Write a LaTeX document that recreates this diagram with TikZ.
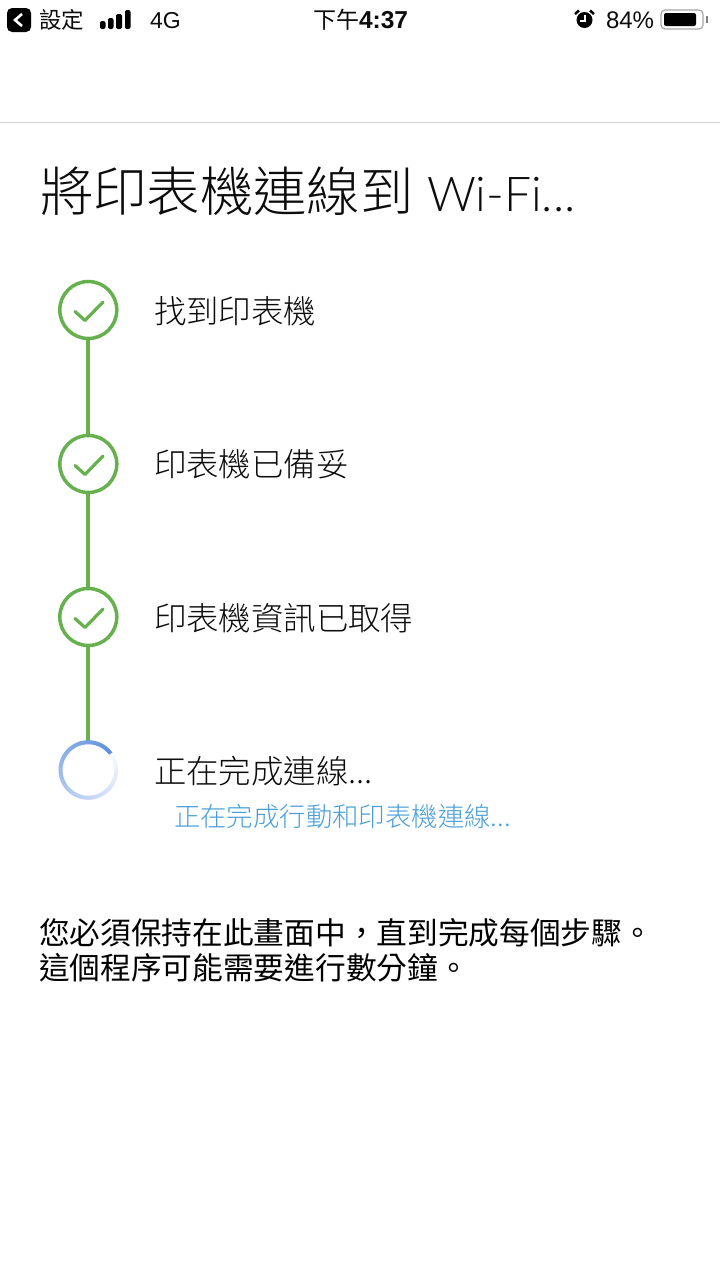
\documentclass[tikz,border=0pt]{standalone}
\usepackage{fontspec}
\setmainfont{Noto Sans CJK TC Light}[BoldFont={Noto Sans CJK TC}]
\newfontfamily\regfont{Noto Sans CJK TC}
\newfontfamily\latinfont{Liberation Sans}
\newfontfamily\thinfont{Lato Light}
\definecolor{stepgreen}{HTML}{66B04E}
\definecolor{linkblue}{HTML}{4A9FD8}
\definecolor{spinblue}{HTML}{5F90DE}
\definecolor{rulegray}{HTML}{D4D4D4}
\definecolor{inktext}{HTML}{0C0C0C}
\tikzset{
  px/.style={x=1pt,y=-1pt},
  txt/.style={anchor=base west,inner sep=0pt,outer sep=0pt,text=inktext},
  stepmark/.style={circle,draw=stepgreen,line width=3.5pt,minimum size=57pt,inner sep=0pt,outer sep=0pt},
  stepline/.style={draw=stepgreen,line width=4pt},
  tick/.style={draw=stepgreen,line width=3.2pt,line cap=round,line join=round},
}
\newcommand{\txtsize}[1]{\fontsize{#1}{#1}\selectfont}
\begin{document}
\begin{tikzpicture}[px]
\useasboundingbox[fill=white] (0,0) rectangle (720,1280);

\fill[black,rounded corners=5pt] (7,8) rectangle (31,32);
\draw[white,line width=2.6pt] (22,14) -- (15,20) -- (22,26);
\node[txt] (back) at (39,28) {\regfont\txtsize{22.5}設定};
\fill[black,rounded corners=2pt] (100,21) rectangle (105.5,29);
\fill[black,rounded corners=2pt] (108,18) rectangle (113.5,29);
\fill[black,rounded corners=2pt] (116,14) rectangle (122,29);
\fill[black,rounded corners=2pt] (125,10) rectangle (130.5,29);
\node[txt] (net) at (150,28) {\latinfont\txtsize{23}4G};
\node[txt] (clock) at (313,28) {\regfont\txtsize{23}下午\latinfont\bfseries\txtsize{24.5}4:37};
\fill[black] (584.5,20) circle (8pt);
\draw[white,line width=1.5pt] (585,15) -- (585,21) -- (580,21);
\draw[black,line width=2.5pt] (575,14) -- (579,10.5);
\draw[black,line width=2.5pt] (594,14) -- (590,10.5);
\node[txt] (batt) at (606,28) {\latinfont\txtsize{24}84\%};
\draw[gray!70,line width=1.2pt,rounded corners=4pt] (661,10) rectangle (703,29);
\fill[black,rounded corners=2pt] (664,13) rectangle (696,26);
\fill[gray] (706,16) rectangle (708,23);

\draw[rulegray,line width=1.5pt] (0,122.5) -- (720,122.5);

\node[txt] (title) at (40,211) {\txtsize{53.4}將印表機連線到};
\node[txt] (wifi) at (427,211) {\thinfont\txtsize{48}Wi-Fi...};

\node[stepmark] (stepa) at (88.3,310) {};
\node[stepmark] (stepb) at (88.3,464) {};
\node[stepmark] (stepc) at (88.3,617) {};
\coordinate (stepd) at (88.3,742);
\draw[stepline] (stepa) -- (stepb);
\draw[stepline] (stepb) -- (stepc);
\draw[stepline] (stepc) -- (stepd);

\foreach \y in {310,464,617}{
  \draw[tick] (75,\y+1.5) -- (85,\y+10.5) -- (103,\y-8);
}

\foreach \a in {0,6,...,354}{
  \pgfmathsetmacro{\fade}{max(0,100-\a*0.27)}
  \pgfmathsetmacro{\b}{-35-\a}
  \draw[spinblue!\fade!white,line width=4pt] (88.3,770) ++(\b:27.8) arc[start angle=\b,delta angle=-7,radius=27.8];
}

\node[txt] at (154,323) {\txtsize{32.4}找到印表機};
\node[txt] at (154,476) {\txtsize{32.4}印表機已備妥};
\node[txt] at (154,630) {\txtsize{32.4}印表機資訊已取得};
\node[txt] at (154,783) {\txtsize{32.4}正在完成連線...};
\node[txt,text=linkblue] at (174,826) {\txtsize{26.4}正在完成行動和印表機連線...};

\node[txt,text=black] at (39,944) {\regfont\txtsize{30.7}您必須保持在此畫面中，直到完成每個步驟。};
\node[txt,text=black] at (39,979) {\regfont\txtsize{30.7}這個程序可能需要進行數分鐘。};
\end{tikzpicture}
\end{document}
